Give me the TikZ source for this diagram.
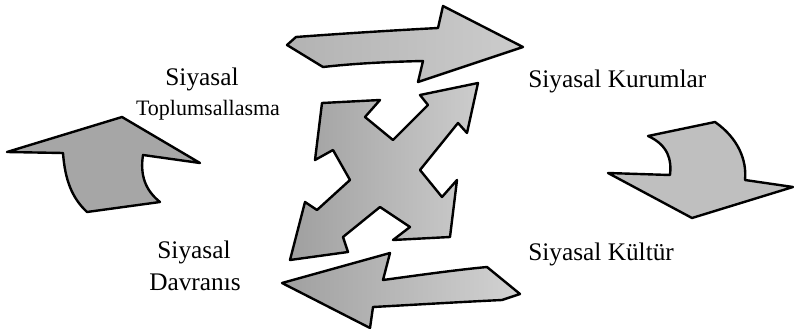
\documentclass[tikz,border=0pt]{standalone}
\usepackage{fontspec}
\setmainfont{Liberation Serif}
\usepackage{tikz}
\usetikzlibrary{calc, positioning}

\begin{document}
\begin{tikzpicture}[
    x=0.75pt, y=-0.75pt,
    arrowshape/.style={draw=black, line width=1.8pt, line join=round},
    label/.style={inner sep=0pt, font=\fontsize{19}{22}\selectfont},
  ]
    \useasboundingbox (0,0) rectangle (794,329);
    % top arrow
    \draw[arrowshape, left color=gray!60, right color=gray!40]
      (287,45) -- (296,37) .. controls (350,33) and (400,30) .. (438,28)
      -- (443,6) -- (523,47) -- (418,82) -- (423,61)
      .. controls (380,62) and (350,64) .. (323,67) -- cycle;
    % bottom arrow
    \draw[arrowshape, left color=gray!75, right color=gray!35]
      (282,283) -- (390,253) -- (383,280) .. controls (420,275) and (455,270) .. (487,267)
      -- (520,294) -- (502,300) .. controls (460,302) and (410,305) .. (373,307)
      -- (370,328) -- cycle;
    % left arrow
    \draw[arrowshape, fill=gray!70]
      (7,152) -- (122,117) -- (200,163) -- (143,155)
      .. controls (140,175) and (145,190) .. (160,202) -- (87,212)
      .. controls (72,198) and (65,180) .. (63,153) -- cycle;
    % right arrow
    \draw[arrowshape, fill=gray!50]
      (648,136) -- (715,122) .. controls (738,138) and (747,160) .. (745,180)
      -- (793,187) -- (692,218) -- (608,173) -- (670,175)
      .. controls (672,160) and (668,145) .. (648,136) -- cycle;
    % cross
    \draw[arrowshape, left color=gray!75, right color=gray!40]
      (322,103) -- (380,100) -- (365,117) -- (393,140) -- (428,105) -- (420,95)
      -- (478,83) -- (467,133) -- (458,123) -- (420,170) -- (442,197) -- (457,180)
      -- (450,237) -- (393,240) -- (410,227) -- (380,207) -- (343,237) -- (348,252)
      -- (290,260) -- (305,202) -- (317,210) -- (350,180) -- (333,150) -- (315,160)
      -- cycle;

    \node[label, anchor=base] (tops) at (202,85) {Siyasal};
    \node[label, anchor=base, font=\fontsize{16.5}{20}\selectfont] (topl) at (208,115) {Toplumsallasma};
    \node[label, anchor=base west] (kurum) at (528,87) {Siyasal Kurumlar};
    \node[label, anchor=base west] (kultur) at (528,260) {Siyasal Kültür};
    \node[label, anchor=base] (davs) at (194,258) {Siyasal};
    \node[label, anchor=base] (davr) at (195,290) {Davranıs};
  \end{tikzpicture}
\end{document}
